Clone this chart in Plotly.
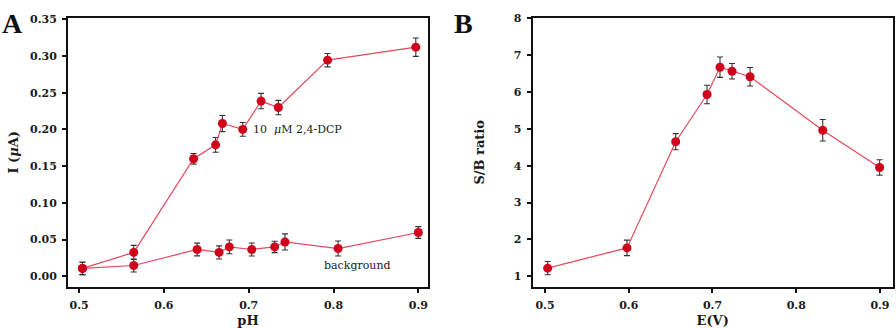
import plotly.graph_objects as go

# Panel A data
ph_sig = [0.504, 0.5645, 0.635, 0.661, 0.669, 0.693, 0.7146, 0.735, 0.793, 0.897]
i_sig = [0.0107, 0.0325, 0.160, 0.179, 0.208, 0.200, 0.2386, 0.2298, 0.2943, 0.3120]
e_sig = [0.0085, 0.0096, 0.0073, 0.010, 0.011, 0.0094, 0.0105, 0.0098, 0.0091, 0.0125]

ph_bg = [0.504, 0.5645, 0.6392, 0.6651, 0.6772, 0.7036, 0.7306, 0.7428, 0.8054, 0.900]
i_bg = [0.0107, 0.0147, 0.0365, 0.0325, 0.040, 0.0365, 0.040, 0.0467, 0.0378, 0.0596]
e_bg = [0.0085, 0.0089, 0.0087, 0.0089, 0.0094, 0.0089, 0.0078, 0.011, 0.0102, 0.008]

# Panel B data
ev = [0.5032, 0.5979, 0.6561, 0.6935, 0.7090, 0.7234, 0.7449, 0.8317, 0.8996]
sb = [1.22, 1.77, 4.65, 5.93, 6.67, 6.56, 6.41, 4.96, 3.95]
e_sb = [0.18, 0.21, 0.22, 0.25, 0.275, 0.21, 0.25, 0.29, 0.21]

xA_ticks = [0.5, 0.6, 0.7, 0.8, 0.9]
yA_ticks = [0.00, 0.05, 0.10, 0.15, 0.20, 0.25, 0.30, 0.35]
yB_ticks = [1, 2, 3, 4, 5, 6, 7, 8]

MARK = "#d0021b"
LINE = "#e04a60"
FONT = "DejaVu Serif"
TXT = "#1a1a1a"

def trace(x, y, e, xa, ya):
    return go.Scatter(
        x=x, y=y, xaxis=xa, yaxis=ya, mode="lines+markers",
        line=dict(color=LINE, width=1.2),
        marker=dict(color=MARK, size=9),
        error_y=dict(type="data", array=e, color="#333333", thickness=1.1, width=3),
        showlegend=False,
    )

fig = go.Figure()
fig.add_trace(trace(ph_sig, i_sig, e_sig, "x", "y"))
fig.add_trace(trace(ph_bg, i_bg, e_bg, "x", "y"))
fig.add_trace(trace(ev, sb, e_sb, "x2", "y2"))

ax_common = dict(
    showline=True, linecolor="#111111", linewidth=2, mirror=True,
    ticks="outside", ticklen=4, tickwidth=1.5, tickcolor="#111111",
    showgrid=False, zeroline=False, ticklabelstandoff=3,
    tickfont=dict(family=FONT, size=11, color=TXT, weight="bold"),
)
title_font = dict(family=FONT, size=13, color=TXT, weight="bold")

fig.update_layout(
    width=896, height=328,
    margin=dict(l=0, r=0, t=0, b=0),
    paper_bgcolor="white", plot_bgcolor="white",
    font=dict(family=FONT, color=TXT),
    xaxis=dict(domain=[0.0759, 0.4777], range=[0.487, 0.9114],
               tickvals=xA_ticks, ticktext=[f"{v:.1f}" for v in xA_ticks],
               title=dict(text="pH", font=title_font, standoff=7),
               anchor="y", **ax_common),
    yaxis=dict(domain=[0.128, 0.9634], range=[-0.0143, 0.352],
               tickvals=yA_ticks, ticktext=[f"{v:.2f}" for v in yA_ticks],
               title=dict(text="I (<i>μ</i>A)", font=title_font, standoff=8),
               anchor="x", **ax_common),
    xaxis2=dict(domain=[0.5945, 0.9963], range=[0.4853, 0.9152],
                tickvals=xA_ticks, ticktext=[f"{v:.1f}" for v in xA_ticks],
                title=dict(text="E(V)", font=title_font, standoff=7),
                anchor="y2", **ax_common),
    yaxis2=dict(domain=[0.128, 0.9634], range=[0.715, 8.01],
                tickvals=yB_ticks, ticktext=[str(v) for v in yB_ticks],
                title=dict(text="S/B ratio", font=title_font, standoff=26),
                anchor="x2", **ax_common),
    annotations=[
        dict(text="<b>A</b>", x=0.0, y=1.0, xref="paper", yref="paper",
             xanchor="left", yanchor="top", showarrow=False,
             font=dict(family="Liberation Serif", size=28, color="#111111")),
        dict(text="<b>B</b>", x=0.5045, y=1.0, xref="paper", yref="paper",
             xanchor="left", yanchor="top", showarrow=False,
             font=dict(family="Liberation Serif", size=28, color="#111111")),
        dict(text="10  <i>μ</i>M 2,4-DCP", x=0.7025, y=0.2, xref="x", yref="y",
             xanchor="left", yanchor="middle", showarrow=False,
             font=dict(family=FONT, size=11, color=TXT)),
        dict(text="background", x=0.786, y=0.0143, xref="x", yref="y",
             xanchor="left", yanchor="middle", showarrow=False,
             font=dict(family=FONT, size=11, color=TXT)),
    ],
)

fig.write_html("out.html")
